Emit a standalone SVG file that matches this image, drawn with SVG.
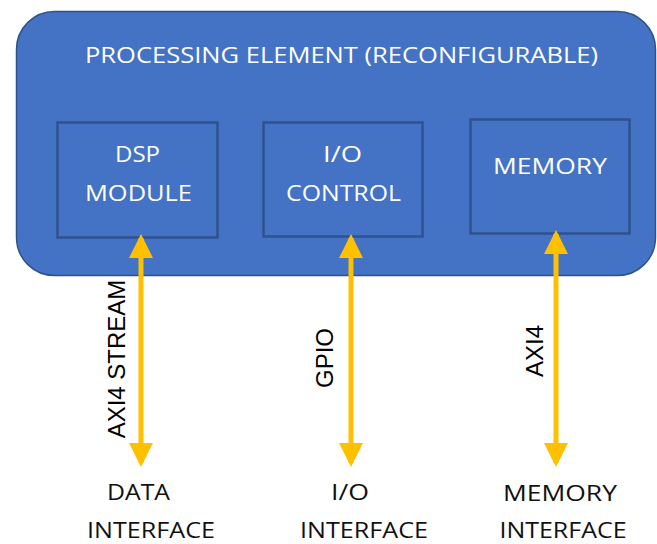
<svg xmlns="http://www.w3.org/2000/svg" width="657" height="544" viewBox="0 0 657 544">
  <defs>
    <style>
      .pe { fill: #4472C4; stroke: #2F528F; stroke-width: 1.5; }
      .blk { fill: #4472C4; stroke: #2F528F; stroke-width: 2.5; }
      .wt { font-family: "Open Sans", "Noto Sans", "DejaVu Sans", sans-serif; font-size: 22px; fill: #FFFFFF; text-anchor: middle; }
      .bt { font-family: "Open Sans", "Noto Sans", "DejaVu Sans", sans-serif; font-size: 21px; fill: #111111; text-anchor: middle; }
      .bus { font-family: "Liberation Sans", Arial, sans-serif; font-size: 24px; fill: #000000; text-anchor: middle; }
      .link { stroke: #FFC000; stroke-width: 5; fill: none; marker-start: url(#head); marker-end: url(#head); }
    </style>
    <marker id="head" viewBox="0 0 24 24" refX="20" refY="12" markerWidth="24" markerHeight="24" markerUnits="userSpaceOnUse" orient="auto-start-reverse">
      <path d="M0,0 L24,12 L0,24 Z" fill="#FFC000"/>
    </marker>
  </defs>

  <!-- Processing element container -->
  <g id="processing-element">
    <rect class="pe" x="16.5" y="11.5" width="639" height="264" rx="38" ry="38"/>
    <text class="wt" x="341.5" y="63" textLength="513" lengthAdjust="spacingAndGlyphs">PROCESSING ELEMENT (RECONFIGURABLE)</text>
  </g>

  <g id="dsp-module">
    <rect class="blk" x="57.5" y="122.5" width="160" height="115"/>
    <text class="wt" x="137.5" y="162" textLength="45" lengthAdjust="spacingAndGlyphs">DSP</text>
    <text class="wt" x="138.5" y="201" textLength="107" lengthAdjust="spacingAndGlyphs">MODULE</text>
  </g>

  <g id="io-control">
    <rect class="blk" x="263.5" y="122.5" width="159" height="114"/>
    <text class="wt" x="342.5" y="162" textLength="39" lengthAdjust="spacingAndGlyphs">I/O</text>
    <text class="wt" x="343.5" y="201" textLength="115" lengthAdjust="spacingAndGlyphs">CONTROL</text>
  </g>

  <g id="memory">
    <rect class="blk" x="470.5" y="119.5" width="159" height="114"/>
    <text class="wt" x="550" y="174" textLength="114" lengthAdjust="spacingAndGlyphs">MEMORY</text>
  </g>

  <!-- Bidirectional bus connectors -->
  <g id="connectors">
    <line class="link" x1="141" y1="238" x2="141" y2="463"/>
    <line class="link" x1="351" y1="238" x2="351" y2="463"/>
    <line class="link" x1="556" y1="234" x2="556" y2="463"/>
    <text class="bus" transform="translate(125,359) rotate(-90)">AXI4 STREAM</text>
    <text class="bus" transform="translate(333,358) rotate(-90)">GPIO</text>
    <text class="bus" transform="translate(543,351) rotate(-90)">AXI4</text>
  </g>

  <g id="data-interface">
    <text class="bt" x="138.5" y="500" textLength="63" lengthAdjust="spacingAndGlyphs">DATA</text>
    <text class="bt" x="151" y="538" textLength="128" lengthAdjust="spacingAndGlyphs">INTERFACE</text>
  </g>

  <g id="io-interface">
    <text class="bt" x="350" y="500" textLength="38" lengthAdjust="spacingAndGlyphs">I/O</text>
    <text class="bt" x="364" y="538" textLength="128" lengthAdjust="spacingAndGlyphs">INTERFACE</text>
  </g>

  <g id="memory-interface">
    <text class="bt" x="560" y="501" textLength="114" lengthAdjust="spacingAndGlyphs">MEMORY</text>
    <text class="bt" x="563" y="538" textLength="127" lengthAdjust="spacingAndGlyphs">INTERFACE</text>
  </g>
</svg>
